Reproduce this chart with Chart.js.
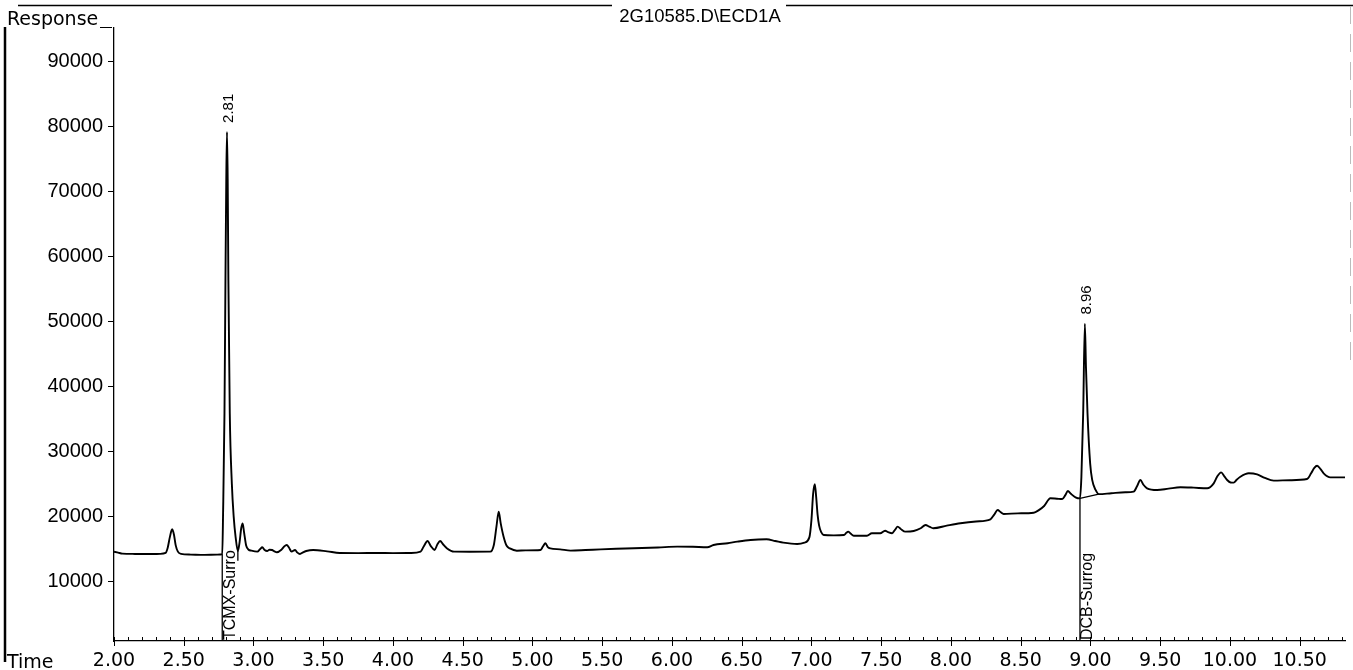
<!DOCTYPE html>
<html>
<head>
<meta charset="utf-8">
<title>2G10585.D\ECD1A</title>
<script src="https://cdn.jsdelivr.net/npm/chart.js@4.4.1/dist/chart.umd.min.js"></script>
<style>
  html, body { margin: 0; padding: 0; background: #fff; }
  canvas { display: block; }
</style>
</head>
<body>
<canvas id="chrom" width="1353" height="670"></canvas>
<script>
// ECD1A detector trace: retention time (min) and detector response
const retentionTimes = [
  2.000, 2.030, 2.060, 2.150, 2.250, 2.330, 2.370, 2.385, 2.400, 2.417, 2.430, 2.442, 2.458, 2.480, 2.550, 2.650, 2.740,
  2.776, 2.782, 2.792, 2.799, 2.805, 2.810, 2.815, 2.820, 2.830, 2.845, 2.858, 2.872, 2.888, 2.900, 2.912, 2.922, 2.933,
  2.948, 2.965, 2.985, 3.028, 3.048, 3.063, 3.080, 3.098, 3.115, 3.133, 3.150, 3.168, 3.200, 3.220, 3.238, 3.255, 3.273,
  3.298, 3.315, 3.333, 3.355, 3.378, 3.428, 3.528, 3.618, 3.750, 3.888, 4.000, 4.128, 4.198, 4.220, 4.248, 4.270, 4.298,
  4.318, 4.338, 4.360, 4.388, 4.438, 4.550, 4.698, 4.723, 4.742, 4.758, 4.772, 4.793, 4.815, 4.838, 4.888, 4.950, 5.058,
  5.075, 5.093, 5.110, 5.128, 5.198, 5.273, 5.380, 5.488, 5.600, 5.728, 5.900, 6.038, 6.150, 6.253, 6.298, 6.400, 6.468,
  6.563, 6.678, 6.740, 6.798, 6.898, 6.950, 6.985, 7.000, 7.012, 7.024, 7.034, 7.044, 7.055, 7.070, 7.088, 7.160, 7.233,
  7.250, 7.263, 7.280, 7.303, 7.398, 7.433, 7.493, 7.528, 7.550, 7.578, 7.600, 7.618, 7.640, 7.673, 7.733, 7.783, 7.818,
  7.845, 7.873, 7.970, 8.068, 8.180, 8.283, 8.310, 8.335, 8.355, 8.378, 8.480, 8.593, 8.630, 8.668, 8.713, 8.760, 8.798,
  8.820, 8.838, 8.860, 8.893, 8.925, 8.935, 8.948, 8.960, 8.968, 8.979, 8.998, 9.013, 9.037, 9.060, 9.150, 9.250, 9.310,
  9.335, 9.358, 9.380, 9.406, 9.478, 9.560, 9.645, 9.740, 9.837, 9.884, 9.910, 9.937, 9.960, 9.980, 10.005, 10.027,
  10.050, 10.075, 10.135, 10.195, 10.250, 10.314, 10.430, 10.553, 10.582, 10.605, 10.625, 10.650, 10.672, 10.720, 10.825
];
const responses = [
  14600, 14450, 14300, 14250, 14230, 14260, 14400, 15200, 16800, 18050, 17200, 15600, 14600, 14250, 14150, 14100, 14150,
  14200, 20500, 35900, 56400, 72000, 79200, 72000, 56400, 35900, 25000, 20000, 16800, 14700, 16000, 18200, 18950, 17500,
  15500, 14900, 14750, 14600, 15000, 15270, 14850, 14700, 14900, 14860, 14650, 14500, 14900, 15400, 15630, 15200, 14600,
  14860, 14450, 14250, 14500, 14700, 14860, 14650, 14400, 14380, 14400, 14380, 14400, 14600, 15400, 16240, 15500, 14860,
  15700, 16240, 15700, 15100, 14600, 14580, 14600, 15630, 18500, 20760, 19000, 16900, 15500, 15100, 14750, 14800, 14860,
  15400, 15900, 15300, 15100, 14960, 14760, 14850, 14960, 15050, 15120, 15250, 15380, 15350, 15270, 15630, 15900, 16140,
  16400, 16500, 16250, 15990, 15780, 16000, 16800, 19500, 23500, 24970, 23000, 20300, 18600, 17600, 17170, 17100, 17170,
  17500, 17680, 17400, 17060, 17060, 17430, 17430, 17830, 17600, 17430, 18000, 18450, 18100, 17680, 17780, 18200, 18710,
  18450, 18200, 18600, 18970, 19250, 19580, 20300, 21010, 20700, 20400, 20500, 20600, 21000, 21630, 22810, 22750, 22700,
  23300, 23940, 23500, 22970, 22800, 26000, 35900, 49700, 43000, 35900, 28200, 25600, 24100, 23450, 23600, 23750, 23850,
  24700, 25630, 24900, 24350, 24090, 24300, 24510, 24450, 24350, 25120, 26200, 26810, 26200, 25630, 25250, 25220,
  25700, 26140, 26660, 26500, 25950, 25530, 25600, 25780, 26660, 27500, 27830, 27300, 26660, 26040, 26040
];

// Axis ticks
const xTickValues = [2.00, 2.50, 3.00, 3.50, 4.00, 4.50, 5.00, 5.50, 6.00, 6.50, 7.00, 7.50, 8.00, 8.50, 9.00, 9.50, 10.00, 10.50];
const yTickValues = [10000, 20000, 30000, 40000, 50000, 60000, 70000, 80000, 90000];

// Integrated peaks and identified compounds
const peakLabelTimes = [2.81, 8.96];
const compoundNames = ['TCMX-Surro', 'DCB-Surrog'];
const compoundStartTimes = [2.776, 8.925];
const peakEndTimes = [2.888];
const baselineStartTimes = [8.925];
const baselineEndTimes = [9.060];

const fileName = '2G10585.D\\ECD1A';
const yAxisName = 'Response';
const xAxisName = 'Time';

const X_MIN = 2.0, X_MAX = 10.825;
const Y_MIN = 850, Y_MAX = 95200;

const ARIAL = '"Liberation Sans", Arial, Helvetica, sans-serif';
const WIDE = '"DejaVu Sans", Verdana, sans-serif';

function responseAt(t) {
  let best = 0;
  for (let i = 1; i < retentionTimes.length; i++) {
    if (Math.abs(retentionTimes[i] - t) < Math.abs(retentionTimes[best] - t)) best = i;
  }
  return responses[best];
}

const tracePoints = retentionTimes.map((t, i) => ({ x: t, y: responses[i] }));

// Peak start drop lines, peak end ticks and integration baselines
const markerPoints = [];
compoundStartTimes.forEach(t => {
  markerPoints.push({ x: t, y: Y_MIN }, { x: t, y: responseAt(t) }, { x: t, y: null });
});
peakEndTimes.forEach(t => {
  const v = responseAt(t);
  markerPoints.push({ x: t, y: v }, { x: t, y: v - 1500 }, { x: t, y: null });
});
baselineStartTimes.forEach((s, i) => {
  const e = baselineEndTimes[i];
  markerPoints.push({ x: s, y: responseAt(s) }, { x: e, y: responseAt(e) }, { x: e, y: null });
});

const decorPlugin = {
  id: 'chromDecor',
  afterDraw(chart) {
    const { ctx, chartArea: a, scales: { x, y } } = chart;
    ctx.save();
    ctx.strokeStyle = '#000';
    ctx.fillStyle = '#000';

    // x axis minor ticks (0.1 min) pointing up, major ticks pointing down
    ctx.lineWidth = 1;
    ctx.beginPath();
    for (let k = 20; k <= 108; k++) {
      const px = Math.round(x.getPixelForValue(k / 10)) + 0.5;
      ctx.moveTo(px, a.bottom);
      ctx.lineTo(px, a.bottom - 4);
    }
    xTickValues.forEach(v => {
      const px = Math.round(x.getPixelForValue(v)) + 0.5;
      ctx.moveTo(px, a.bottom);
      ctx.lineTo(px, a.bottom + 5);
    });
    // short mark at the top of the response axis
    ctx.moveTo(a.left - 14, a.top - 0.5);
    ctx.lineTo(a.left - 2, a.top - 0.5);
    ctx.stroke();

    // page frame
    ctx.lineWidth = 2.5;
    ctx.beginPath();
    ctx.moveTo(5, 27);
    ctx.lineTo(5, 662);
    ctx.stroke();
    ctx.lineWidth = 1.5;
    ctx.beginPath();
    ctx.moveTo(18, 5.5);
    ctx.lineTo(612, 5.5);
    ctx.moveTo(786, 5.5);
    ctx.lineTo(1353, 5.5);
    ctx.stroke();
    ctx.strokeStyle = '#bbb';
    ctx.lineWidth = 1;
    ctx.setLineDash([18, 10]);
    ctx.beginPath();
    ctx.moveTo(1350.5, 6);
    ctx.lineTo(1350.5, 360);
    ctx.stroke();
    ctx.setLineDash([]);

    // header and axis names
    ctx.textBaseline = 'alphabetic';
    ctx.textAlign = 'center';
    ctx.font = '18.5px ' + ARIAL;
    ctx.fillText(fileName, 700, 22);
    ctx.textAlign = 'left';
    ctx.font = '19px ' + WIDE;
    ctx.fillText(yAxisName, 7, 25);
    ctx.fillText(xAxisName, 7, 668);

    // retention time labels above the integrated peaks
    ctx.font = '15px ' + ARIAL;
    peakLabelTimes.forEach(t => {
      const px = x.getPixelForValue(t);
      const py = y.getPixelForValue(responseAt(t));
      ctx.save();
      ctx.translate(px + 2, py - 9);
      ctx.rotate(-Math.PI / 2);
      ctx.textAlign = 'left';
      ctx.textBaseline = 'middle';
      ctx.fillText(t.toFixed(2), 0, 0);
      ctx.restore();
    });

    // compound names beside the drop lines
    ctx.font = '16px ' + ARIAL;
    compoundStartTimes.forEach((t, i) => {
      const px = x.getPixelForValue(t);
      ctx.save();
      ctx.translate(px + 8, a.bottom - 1);
      ctx.rotate(-Math.PI / 2);
      ctx.textAlign = 'left';
      ctx.textBaseline = 'middle';
      ctx.fillText(compoundNames[i], 0, 0);
      ctx.restore();
    });
    ctx.restore();
  }
};

new Chart(document.getElementById('chrom'), {
  type: 'line',
  data: {
    datasets: [
      {
        label: 'ECD1A',
        data: tracePoints,
        borderColor: '#000',
        borderWidth: 1.9,
        pointRadius: 0,
        cubicInterpolationMode: 'monotone',
        fill: false
      },
      {
        label: 'integration',
        data: markerPoints,
        borderColor: '#000',
        borderWidth: 1.3,
        pointRadius: 0,
        tension: 0,
        spanGaps: false,
        fill: false
      }
    ]
  },
  options: {
    responsive: false,
    animation: false,
    devicePixelRatio: 1,
    layout: { padding: { top: 28, right: 8, left: 0, bottom: 0 } },
    plugins: {
      legend: { display: false },
      tooltip: { enabled: false },
      title: { display: false }
    },
    scales: {
      x: {
        type: 'linear',
        min: X_MIN,
        max: X_MAX,
        afterBuildTicks: s => { s.ticks = xTickValues.map(v => ({ value: v })); },
        afterFit: s => { s.height = 29; },
        grid: { display: false, drawTicks: false },
        border: { display: true, color: '#000', width: 1.3, dash: [14, 2] },
        ticks: {
          autoSkip: false,
          maxRotation: 0,
          padding: 9,
          color: '#000',
          font: { family: WIDE, size: 19 },
          callback: v => Number(v).toFixed(2)
        }
      },
      y: {
        type: 'linear',
        min: Y_MIN,
        max: Y_MAX,
        afterBuildTicks: s => { s.ticks = yTickValues.map(v => ({ value: v })); },
        afterFit: s => { s.width = 114; },
        grid: { display: true, drawOnChartArea: false, drawTicks: true, tickLength: 6, color: '#000', lineWidth: 1 },
        border: { display: true, color: '#000', width: 1.3, dash: [14, 2] },
        ticks: {
          padding: 5,
          color: '#000',
          font: { family: ARIAL, size: 20 },
          callback: v => String(v)
        }
      }
    }
  },
  plugins: [decorPlugin]
});
</script>
</body>
</html>
